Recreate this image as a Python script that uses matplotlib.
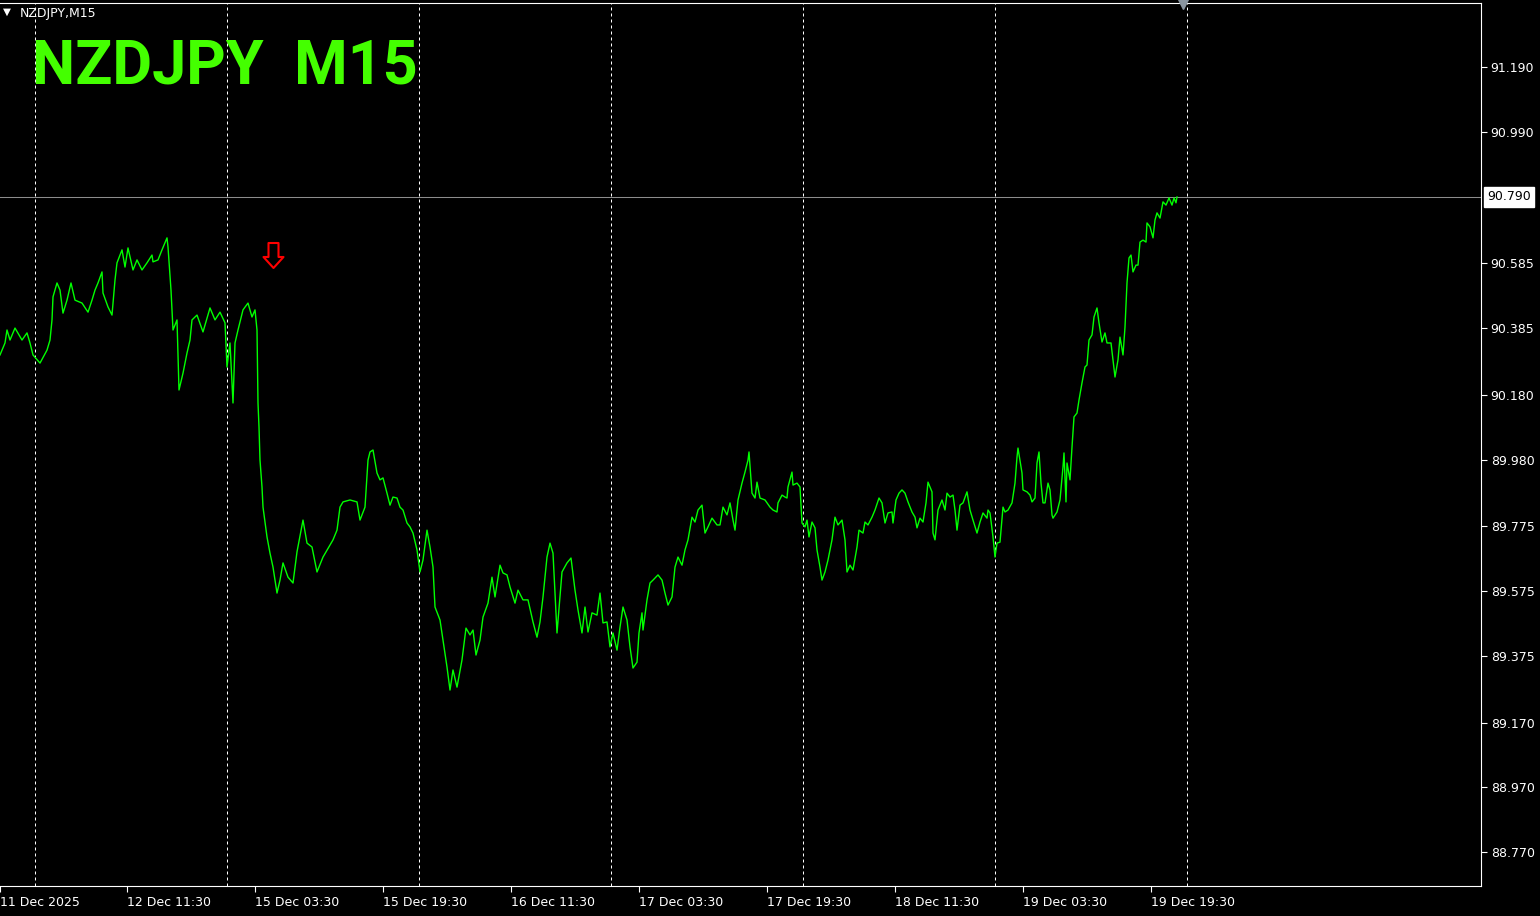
import matplotlib
matplotlib.use("Agg")
import matplotlib.pyplot as plt
from matplotlib.path import Path

# NZDJPY M15 close prices (bar = 15 min candle index)
BARS = [
    0, 2.5, 3.5, 5, 7.5, 11, 13.5, 15, 16.5, 20,
    23.5, 25, 26, 26.5, 28.5, 30, 31.5, 33.5, 35.5, 37.5,
    41, 44, 46, 47.5, 49, 51, 51.5, 54, 56, 57.5,
    58.5, 61, 62.5, 64, 66.5, 68.5, 71, 73.5, 76, 76.5,
    79, 81, 83.5, 84, 85.5, 86.5, 88.5, 89.5, 91.5, 93.5,
    95, 96, 98.5, 101.5, 105, 107.5, 110, 112.5, 113.5, 115,
    116.5, 117.5, 119, 121.5, 124, 126, 127.5, 128.5, 129,
    129.5, 130, 131, 131.5, 133.5, 135, 136.5, 138.5, 140, 141.5,
    144, 146.5, 148.5, 151.5, 153.5, 156, 158.5, 161.5, 166.5, 168.5,
    170, 171.5, 175, 178.5, 180, 182.5, 184, 185, 186.5, 188.5,
    190, 191.5, 193.5, 195, 196.5, 198.5, 200, 201.5, 203.5, 205,
    206.5, 208.5, 210, 211.5, 213.5, 215, 216.5, 217.5, 220, 221.5,
    223.5, 225, 226.5, 228.5, 231, 233, 235, 236.5, 238, 240,
    241.5, 244, 246, 247.5, 250, 251.5, 253.5, 255, 257.5, 259,
    261.5, 264, 266.5, 268.5, 270, 271.5, 273.5, 275, 276.5, 278.5,
    281, 283.5, 285.5, 287.5, 289, 291, 292.5, 294, 296, 298.5,
    300,
    301.5, 303.5, 305, 306.5, 308.5, 310, 311.5, 313.5, 315, 316.5,
    318.5, 319.5, 321, 321.5, 323.5, 325, 326.5, 329, 331, 332.5,
    334, 336, 337.5, 339, 341, 342.5, 344, 346, 347.5, 349,
    351, 352.5, 354, 356, 358.5, 360, 361.5, 363.5, 365, 366.5,
    367.5, 369, 371, 372.5, 374, 374.5, 376, 377.5, 378.5, 380,
    382.5, 385, 386.5, 388.5, 389, 391, 392.5, 393.5, 394, 396,
    396.5, 398.5, 400, 401, 402.5, 403.5, 404.5, 406, 407.5, 408.5,
    410, 411, 412.5, 414, 416, 417.5, 419, 421, 422.5, 423.5,
    425, 426.5, 428.5, 429.5, 431.5, 432.5, 434, 436, 437.5, 439.5,
    441, 442.5, 444, 446, 446.5, 448, 449.5,
    451, 452.5, 454, 456, 457.5, 458.5, 460, 461.5, 463, 464,
    466, 466.5, 467.5, 469, 471, 472.5, 473.5, 475, 476.5, 477.5,
    478.5, 480, 481.5, 483.5, 485, 486.5, 488.5, 490, 491.5, 493.5,
    494, 495, 496.5, 497.5, 498.5, 500, 501.5, 502.5, 504, 506,
    507.5, 508.5, 509, 511, 511.5, 513.5, 515, 516, 517.5, 518.5,
    519.5, 520.5, 521.5, 522.5, 523.5, 524, 525, 526, 526.5, 528.5,
    530, 531.5, 532, 533, 533.5, 535, 536, 537, 538.5, 539.5,
    541, 542.5, 543.5, 544.5, 546, 547, 548.5, 549.5, 551, 552.5,
    553.5, 555.5, 556.5, 557.5, 559, 560, 561.5, 562.5, 563.5, 564.5,
    565.5, 566.5, 568, 569, 570, 571.5, 573, 573.5, 575, 576.5,
    577.5, 578.5, 580, 581.5, 583, 584.5, 586, 587, 588, 588.5,
]
PRICES = [
    90.303, 90.340, 90.380, 90.349, 90.386, 90.349, 90.371, 90.340, 90.303, 90.278,
    90.318, 90.349, 90.411, 90.482, 90.525, 90.503, 90.432, 90.472, 90.525, 90.472,
    90.463, 90.435, 90.472, 90.503, 90.525, 90.559, 90.494, 90.451, 90.426, 90.534,
    90.587, 90.627, 90.574, 90.633, 90.565, 90.596, 90.565, 90.587, 90.611, 90.590,
    90.596, 90.627, 90.664, 90.636, 90.503, 90.380, 90.411, 90.195, 90.247, 90.309,
    90.349, 90.411, 90.426, 90.374, 90.448, 90.411, 90.435, 90.402, 90.266, 90.340,
    90.155, 90.340, 90.380, 90.442, 90.463, 90.420, 90.442, 90.380, 90.155,
    90.081, 89.979, 89.896, 89.834, 89.742, 89.692, 89.649, 89.569, 89.609, 89.662,
    89.618, 89.600, 89.696, 89.794, 89.723, 89.711, 89.634, 89.680, 89.733, 89.763,
    89.834, 89.850, 89.856, 89.850, 89.794, 89.834, 89.979, 90.004, 90.010, 89.939,
    89.918, 89.924, 89.877, 89.840, 89.865, 89.862, 89.834, 89.825, 89.785, 89.773,
    89.754, 89.702, 89.634, 89.671, 89.763, 89.711, 89.649, 89.526, 89.486, 89.424,
    89.341, 89.270, 89.332, 89.279, 89.363, 89.461, 89.440, 89.455, 89.378, 89.424,
    89.495, 89.538, 89.618, 89.557, 89.655, 89.631, 89.625, 89.588, 89.538, 89.578,
    89.548, 89.548, 89.480, 89.433, 89.480, 89.557, 89.680, 89.723, 89.692, 89.446,
    89.634, 89.662, 89.677, 89.578, 89.517, 89.446, 89.526, 89.449, 89.508, 89.501,
    89.569,
    89.477, 89.480, 89.403, 89.446, 89.393, 89.464, 89.526, 89.486, 89.403, 89.338,
    89.356, 89.446, 89.508, 89.455, 89.548, 89.600, 89.609, 89.625, 89.609, 89.569,
    89.532, 89.557, 89.649, 89.680, 89.655, 89.702, 89.733, 89.803, 89.788, 89.825,
    89.840, 89.754, 89.773, 89.800, 89.779, 89.779, 89.834, 89.810, 89.847, 89.794,
    89.763, 89.856, 89.908, 89.942, 89.979, 90.004, 89.877, 89.862, 89.911, 89.862,
    89.856, 89.834, 89.825, 89.819, 89.847, 89.871, 89.865, 89.862, 89.896, 89.942,
    89.902, 89.908, 89.896, 89.785, 89.773, 89.794, 89.742, 89.788, 89.770, 89.702,
    89.649, 89.609, 89.634, 89.671, 89.733, 89.803, 89.779, 89.794, 89.733, 89.634,
    89.655, 89.640, 89.711, 89.763, 89.754, 89.788, 89.779, 89.803, 89.825, 89.862,
    89.847, 89.785, 89.816, 89.819, 89.785, 89.856, 89.877,
    89.887, 89.877, 89.850, 89.819, 89.803, 89.770, 89.800, 89.788, 89.847, 89.911,
    89.881, 89.754, 89.733, 89.825, 89.856, 89.825, 89.877, 89.865, 89.871, 89.825,
    89.763, 89.840, 89.847, 89.881, 89.825, 89.794, 89.754, 89.788, 89.816, 89.800,
    89.825, 89.816, 89.742, 89.680, 89.723, 89.726, 89.834, 89.819, 89.825, 89.847,
    89.908, 89.988, 90.016, 89.939, 89.887, 89.881, 89.871, 89.850, 89.862, 89.970,
    90.004, 89.908, 89.847, 89.847, 89.887, 89.908, 89.887, 89.810, 89.800, 89.819,
    89.856, 89.958, 90.001, 89.850, 89.970, 89.918, 90.019, 90.112, 90.124, 90.164,
    90.217, 90.266, 90.272, 90.349, 90.365, 90.420, 90.448, 90.402, 90.343, 90.371,
    90.340, 90.340, 90.288, 90.235, 90.288, 90.358, 90.303, 90.389, 90.525, 90.602,
    90.611, 90.559, 90.580, 90.580, 90.651, 90.657, 90.651, 90.710, 90.698, 90.664,
    90.719, 90.741, 90.725, 90.775, 90.765, 90.787, 90.765, 90.787, 90.772, 90.790,
]

# Price scale labels on the right
PRICE_TICKS = [91.190, 90.990, 90.585, 90.385, 90.180, 89.980, 89.775,
               89.575, 89.375, 89.170, 88.970, 88.770]
CURRENT_PRICE = 90.790

# Time scale
TIME_TICKS = [0, 63.5, 127.5, 191.5, 255.5, 319.5, 383.5, 447.5, 511.5, 575.5]
TIME_LABELS = ["11 Dec 2025", "12 Dec 11:30", "15 Dec 03:30", "15 Dec 19:30",
               "16 Dec 11:30", "17 Dec 03:30", "17 Dec 19:30", "18 Dec 11:30",
               "19 Dec 03:30", "19 Dec 19:30"]
DAY_STARTS = [17.5, 113.5, 209.5, 305.5, 401.5, 497.5, 593.5]

# Sell signal arrow
SIGNAL_BAR = [136.5]
SIGNAL_PRICE = [90.610]

#Hollow down arrow marker (like the MT4 arrow object)
ARROW = Path([(-5, 12.5), (5, 12.5), (5, -1.5), (10, -1.5), (0, -12.5),
              (-10, -1.5), (-5, -1.5), (-5, 12.5)], closed=True)

W, H = 1540, 916
fig = plt.figure(figsize=(W / 100, H / 100), dpi=100, facecolor="black")
ax = fig.add_axes([0, 30 / H, 1481 / W, 883 / H])
ax.set_facecolor("black")

#Day separators
for d in DAY_STARTS:
    ax.axvline(d, color="white", lw=0.72, ls=(0, (3, 3)), zorder=1)

#Current bid line
ax.axhline(CURRENT_PRICE, color="#8c8c8c", lw=0.75, zorder=1)

#Price line
ax.plot(BARS, PRICES, color="#00ff00", lw=1.0, zorder=3)

#Signal arrow
ax.plot(SIGNAL_BAR, SIGNAL_PRICE, ls="none", marker=ARROW, ms=18,
        mfc="none", mec="red", mew=1.5, zorder=4)

ax.set_xlim(0, 740.5)
ax.set_ylim(88.666, 91.388)

for side in ["top", "right", "bottom"]:
    ax.spines[side].set_color("white")
    ax.spines[side].set_linewidth(0.8)
ax.spines["left"].set_visible(False)

ax.yaxis.tick_right()
ax.set_yticks(PRICE_TICKS)
ax.set_yticklabels([f"{p:.3f}" for p in PRICE_TICKS])
ax.tick_params(axis="y", colors="white", direction="out", length=4, width=0.8,
               labelsize=9, pad=3)

ax.set_xticks(TIME_TICKS)
ax.set_xticklabels(TIME_LABELS, ha="left")
ax.tick_params(axis="x", colors="white", direction="out", length=4, width=0.8,
               labelsize=9, pad=3)

#Current price tag on the scale
ax.annotate(f"{CURRENT_PRICE:.3f}", xy=(1.0, CURRENT_PRICE),
            xycoords=("axes fraction", "data"), xytext=(4.5, 0),
            textcoords="offset points", ha="left", va="center",
            fontsize=9, color="black", annotation_clip=False,
            bbox=dict(boxstyle="square,pad=0.25", fc="white", ec="white"))

#Chart shift marker
ax.plot([591.5], [91.388], marker="v", ms=9, color="#8a95a0", clip_on=False,
        zorder=5)

#Headers
fig.text(32 / W, 1 - 83 / H, "NZDJPY  M15", color="#44ff00", fontsize=44,
         fontweight="bold", family="Roboto", va="baseline")
fig.text(3 / W, 1 - 12 / H, "\u25bc", color="white", fontsize=7.5, va="center",
         family="DejaVu Sans")
fig.text(20 / W, 1 - 13 / H, "NZDJPY,M15", color="white", fontsize=9,
         va="center")

fig.savefig("out.png", dpi=100, facecolor="black")
